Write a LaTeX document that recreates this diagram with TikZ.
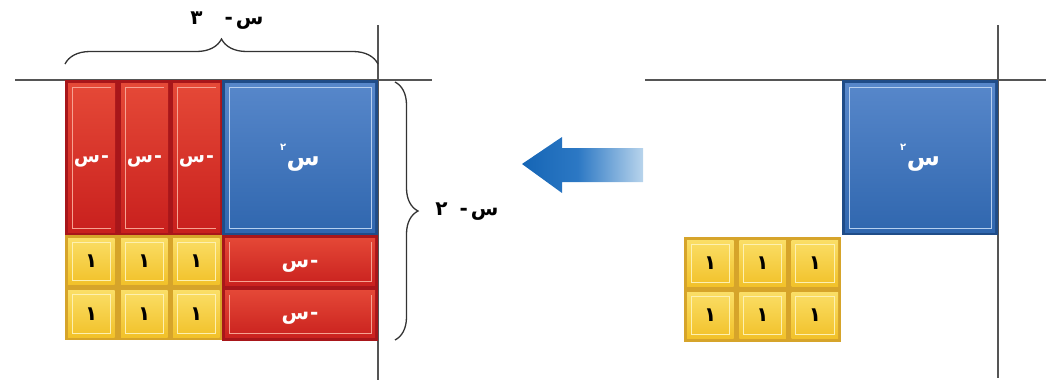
\documentclass[tikz,border=0pt]{standalone}
\usepackage{fontspec}
\TeXXeTstate=1
\newfontfamily\arabicfont[Script=Arabic]{DejaVu Sans}
\usetikzlibrary{decorations.pathreplacing}
\definecolor{reddark}{HTML}{A8161A}
\definecolor{redtop}{HTML}{E64A38}
\definecolor{redbot}{HTML}{C81F1D}
\definecolor{redline}{HTML}{F6A292}
\definecolor{bluedark}{HTML}{1F4C88}
\definecolor{bluetop}{HTML}{5888CB}
\definecolor{bluebot}{HTML}{2F66AE}
\definecolor{blueline}{HTML}{B6CFEF}
\definecolor{yeldark}{HTML}{D6A42A}
\definecolor{yeltop}{HTML}{FBE06A}
\definecolor{yelbot}{HTML}{F1BF25}
\definecolor{yelline}{HTML}{FDF0B0}
\definecolor{axiscol}{HTML}{555555}
\definecolor{bracecol}{HTML}{333333}
\definecolor{arrowdark}{HTML}{1565B5}
\definecolor{arrowmid}{HTML}{2C78C4}
\definecolor{arrowlight}{HTML}{B8D4EC}
\pgfdeclarehorizontalshading{arrowshade}{100bp}{color(0bp)=(arrowdark); color(25bp)=(arrowdark); color(48bp)=(arrowmid); color(75bp)=(arrowlight); color(100bp)=(arrowlight)}
\tikzset{
  tile/.style n args={5}{rectangle, inner sep=0pt, outer sep=0pt, anchor=north west, fill=#1,
    path picture={
      \fill[top color=#2, bottom color=#3]
        ([shift={(3pt,-3pt)}]path picture bounding box.north west) rectangle
        ([shift={(-3pt,3pt)}]path picture bounding box.south east);
      \coordinate (pa) at ([shift={(7pt,-7pt)}]path picture bounding box.north west);
      \coordinate (pc) at ([shift={(-7pt,7pt)}]path picture bounding box.south east);
      \draw[#4, line width=1pt] #5;}},
  redv/.style={tile={reddark}{redtop}{redbot}{redline}{(pa -| pc) -- (pa) -- (pa |- pc) -- (pc)},
    minimum width=53pt, minimum height=155pt,
    text=white, font=\arabicfont\bfseries\fontsize{19}{21}\selectfont},
  redh/.style={tile={reddark}{redtop}{redbot}{redline}{(pa) -- (pa |- pc) -- (pc) -- (pc |- pa)},
    minimum width=156pt, minimum height=53pt,
    text=white, font=\arabicfont\bfseries\fontsize{20}{22}\selectfont},
  bluesq/.style={tile={bluedark}{bluetop}{bluebot}{blueline}{(pa) rectangle (pc)},
    minimum width=156pt, minimum height=155pt,
    text=white, font=\arabicfont\bfseries\fontsize{24}{26}\selectfont},
  unit/.style={tile={yeldark}{yeltop}{yelbot}{yelline}{(pa) rectangle (pc)},
    minimum width=52.5pt, minimum height=52.5pt,
    text=black, font=\arabicfont\bfseries\fontsize{20}{22}\selectfont},
  axisline/.style={draw=axiscol, line width=2pt},
  bracedeco/.style={draw=bracecol, line width=1.3pt, decorate, decoration={brace, amplitude=#1}},
  dimlabel/.style={text=black, font=\arabicfont\bfseries\fontsize{20}{22}\selectfont, inner sep=1pt}
}
\newcommand{\negx}{\raisebox{-0.28em}[0pt][0pt]{\hbox{س}\kern1pt\hbox{-}}}
\newcommand{\xsq}{\raisebox{-0.33em}[0pt][0pt]{\raisebox{1.1ex}{\fontsize{10}{11}\selectfont ٢}\kern0.5pt\hbox{س}}}
\begin{document}
\begin{tikzpicture}[x=1pt, y=-1pt]
\useasboundingbox (0,0) rectangle (1046,386);
% ---------- left figure ----------
\draw[axisline] (15,80) -- (432,80);
\draw[axisline] (378,25) -- (378,380);
\node[redv] (v1) at (65,80) {\negx};
\node[redv] (v2) at (118,80) {\negx};
\node[redv] (v3) at (170,80) {\negx};
\node[bluesq] (sqL) at (222,80) {\xsq};
\node[unit] (a11) at (65,235) {١};
\node[unit] (a12) at (118,235) {١};
\node[unit] (a13) at (170,235) {١};
\node[unit] (a21) at (65,287.5) {١};
\node[unit] (a22) at (118,287.5) {١};
\node[unit] (a23) at (170,287.5) {١};
\node[redh] (h1) at (222,235) {\negx};
\node[redh] (h2) at (222,287.5) {\negx};
% braces
\coordinate (tb1) at (65,64);
\coordinate (tb2) at (378,64);
\draw[bracedeco=25pt] (tb1) -- (tb2);
\node[dimlabel] (lab3) at (227,21) {\beginR س\kern3pt-\hspace{22pt}٣\endR};
\coordinate (rb1) at (395,82);
\coordinate (rb2) at (395,340);
\draw[bracedeco=23pt] (rb1) -- (rb2);
\node[dimlabel] (lab2) at (467,212) {\beginR س\kern3pt-\hspace{12pt}٢\endR};
% ---------- arrow ----------
\shade[shading=arrowshade]
  (522,164) -- (562,137) -- (562,148) -- (643,148) -- (643,182) -- (562,182) -- (562,193) -- cycle;
% ---------- right figure ----------
\draw[axisline] (645,80) -- (1046,80);
\draw[axisline] (998,25) -- (998,378);
\node[bluesq] (sqR) at (842,80) {\xsq};
\node[unit] (b11) at (684,237) {١};
\node[unit] (b12) at (736.3,237) {١};
\node[unit] (b13) at (788.6,237) {١};
\node[unit] (b21) at (684,289) {١};
\node[unit] (b22) at (736.3,289) {١};
\node[unit] (b23) at (788.6,289) {١};
\end{tikzpicture}
\end{document}
